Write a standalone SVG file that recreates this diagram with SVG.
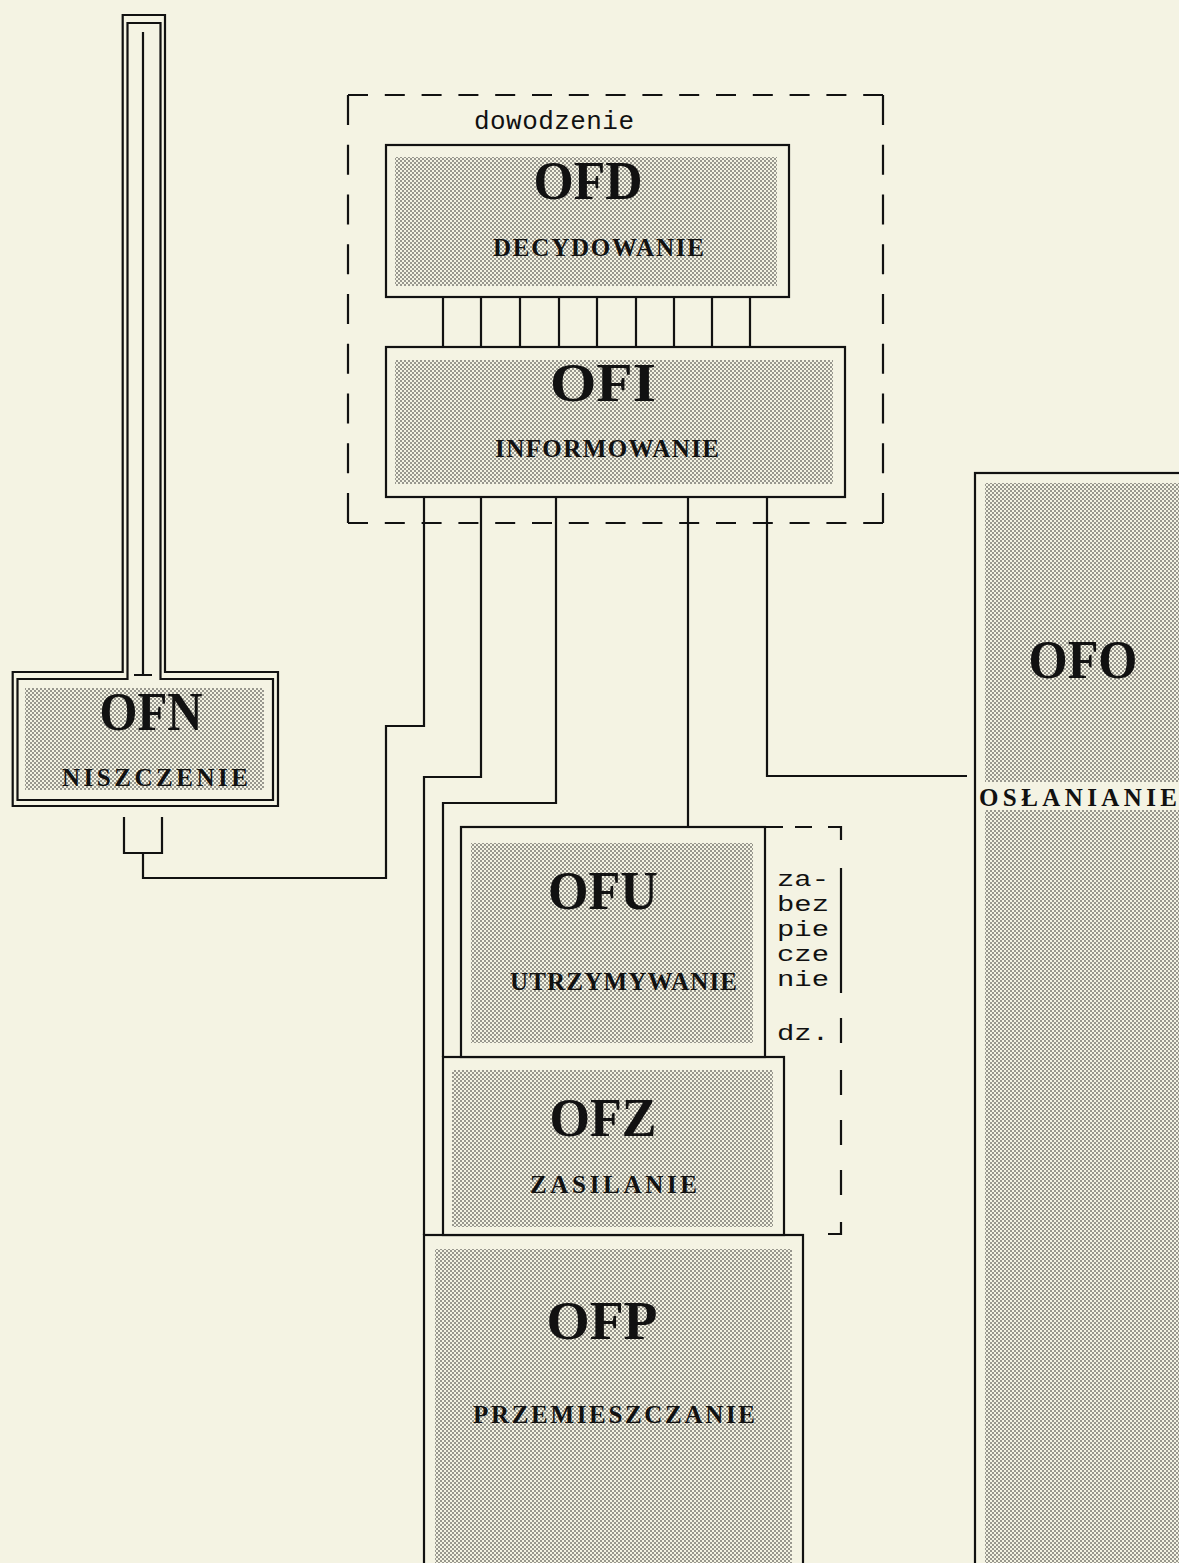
<svg xmlns="http://www.w3.org/2000/svg" width="1179" height="1563" viewBox="0 0 1179 1563">
<defs>
<pattern id="st" width="4" height="4" patternUnits="userSpaceOnUse">
<rect width="4" height="4" fill="#f4f3e3"/>
<circle cx="1" cy="1" r="0.8" fill="#222"/>
<circle cx="3" cy="3" r="0.8" fill="#222"/>
</pattern>
<style>
.ln{fill:none;stroke:#111;stroke-width:2.2;stroke-linejoin:miter}
.box{fill:#f4f3e3;stroke:#111;stroke-width:2.2}
.stip{fill:url(#st)}
.ttl{font-family:"Liberation Serif",serif;font-weight:bold;font-size:54px;fill:#111;text-anchor:middle}
.sub{font-family:"Liberation Serif",serif;font-weight:bold;font-size:25px;fill:#111}
.mono{font-family:"Liberation Mono",monospace;font-size:26px;fill:#111}
.za{font-family:"Liberation Mono",monospace;font-size:22px;fill:#111}
.dh{fill:none;stroke:#111;stroke-width:2.2;stroke-dasharray:20 16.8}
.dv{fill:none;stroke:#111;stroke-width:2.2;stroke-dasharray:30 19.75}
</style>
</defs>
<rect width="1179" height="1563" fill="#f4f3e3"/>

<g id="dowodzenie-frame">
<line class="dh" x1="348" y1="95" x2="883" y2="95"/>
<line class="dh" x1="348" y1="523" x2="883" y2="523"/>
<line class="dv" x1="348" y1="95" x2="348" y2="523"/>
<line class="dv" x1="883" y1="95" x2="883" y2="523"/>
<text class="mono" x="474" y="129" font-size="27" textLength="160">dowodzenie</text>
</g>

<g id="zabezpieczenie-frame">
<path class="ln" d="M765,827 H783 M795,827 H812 M828,827 H841 V840"/>
<path class="ln" d="M841,868 V993 M841,1018 V1043 M841,1070 V1095 M841,1120 V1145 M841,1170 V1195 M841,1222 V1234 H828"/>
<text class="za" x="777" y="886" textLength="52" lengthAdjust="spacingAndGlyphs">za-</text>
<text class="za" x="777" y="911" textLength="52" lengthAdjust="spacingAndGlyphs">bez</text>
<text class="za" x="777" y="936" textLength="52" lengthAdjust="spacingAndGlyphs">pie</text>
<text class="za" x="777" y="961" textLength="52" lengthAdjust="spacingAndGlyphs">cze</text>
<text class="za" x="777" y="986" textLength="52" lengthAdjust="spacingAndGlyphs">nie</text>
<text class="za" x="777" y="1040" textLength="52" lengthAdjust="spacingAndGlyphs">dz.</text>
</g>

<g id="connectors">
<path class="ln" d="M443,297 V347 M481,297 V347 M520,297 V347 M559,297 V347 M597,297 V347 M636,297 V347 M674,297 V347 M712,297 V347 M750,297 V347"/>
<path class="ln" d="M424,497 V726 H386 V878 H143 V853"/>
<path class="ln" d="M124,817 V853 H162 V817"/>
<path class="ln" d="M481,497 V777 H424 V1235"/>
<path class="ln" d="M556,497 V803 H443 V1057"/>
<path class="ln" d="M688,497 V827"/>
<path class="ln" d="M767,497 V776 H967"/>
</g>

<g id="OFD">
<rect class="box" x="386" y="145" width="403" height="152"/>
<rect class="stip" x="395" y="157" width="382" height="129"/>
<text class="ttl" x="588" y="199" textLength="109" lengthAdjust="spacingAndGlyphs">OFD</text>
<text class="sub" x="493" y="256" textLength="211">DECYDOWANIE</text>
</g>

<g id="OFI">
<rect class="box" x="386" y="347" width="459" height="150"/>
<rect class="stip" x="395" y="360" width="438" height="124"/>
<text class="ttl" x="603" y="401" textLength="106" lengthAdjust="spacingAndGlyphs">OFI</text>
<text class="sub" x="495" y="457" textLength="224">INFORMOWANIE</text>
</g>

<g id="OFN">
<path class="ln" d="M12.7,672 H122.7 V15 H165 V672 H278 V806 H12.7 Z"/>
<path class="ln" d="M17.5,679 H127.5 V23 H160.5 V679 H273 V800 H17.5 Z"/>
<rect class="stip" x="25" y="688" width="239" height="102"/>
<path class="ln" d="M143,32 V675 M134,675 H152"/>
<text class="ttl" x="151" y="730" textLength="103" lengthAdjust="spacingAndGlyphs">OFN</text>
<text class="sub" x="62" y="786" textLength="186">NISZCZENIE</text>
</g>

<g id="OFP">
<rect class="box" x="424" y="1235" width="379" height="340"/>
<rect class="stip" x="435" y="1249" width="357" height="330"/>
<text class="ttl" x="602" y="1339" textLength="111" lengthAdjust="spacingAndGlyphs">OFP</text>
<text class="sub" x="473" y="1423" textLength="282">PRZEMIESZCZANIE</text>
</g>

<g id="OFZ">
<rect class="box" x="443" y="1057" width="341" height="178"/>
<rect class="stip" x="452" y="1070" width="321" height="157"/>
<text class="ttl" x="603" y="1136" textLength="107" lengthAdjust="spacingAndGlyphs">OFZ</text>
<text class="sub" x="530" y="1193" textLength="167">ZASILANIE</text>
</g>

<g id="OFU">
<rect class="box" x="461" y="827" width="304" height="230"/>
<rect class="stip" x="471" y="843" width="282" height="200"/>
<text class="ttl" x="603" y="909" textLength="110" lengthAdjust="spacingAndGlyphs">OFU</text>
<text class="sub" x="510" y="990" textLength="227">UTRZYMYWANIE</text>
</g>

<g id="OFO">
<rect class="box" x="975" y="473" width="260" height="1110"/>
<rect class="stip" x="985" y="483" width="250" height="1100"/>
<rect x="985" y="782" width="250" height="28" fill="#f4f3e3"/>
<text class="ttl" x="1083" y="678" textLength="109" lengthAdjust="spacingAndGlyphs">OFO</text>
<text class="sub" x="979" y="806" textLength="198">OSŁANIANIE</text>
</g>
</svg>
